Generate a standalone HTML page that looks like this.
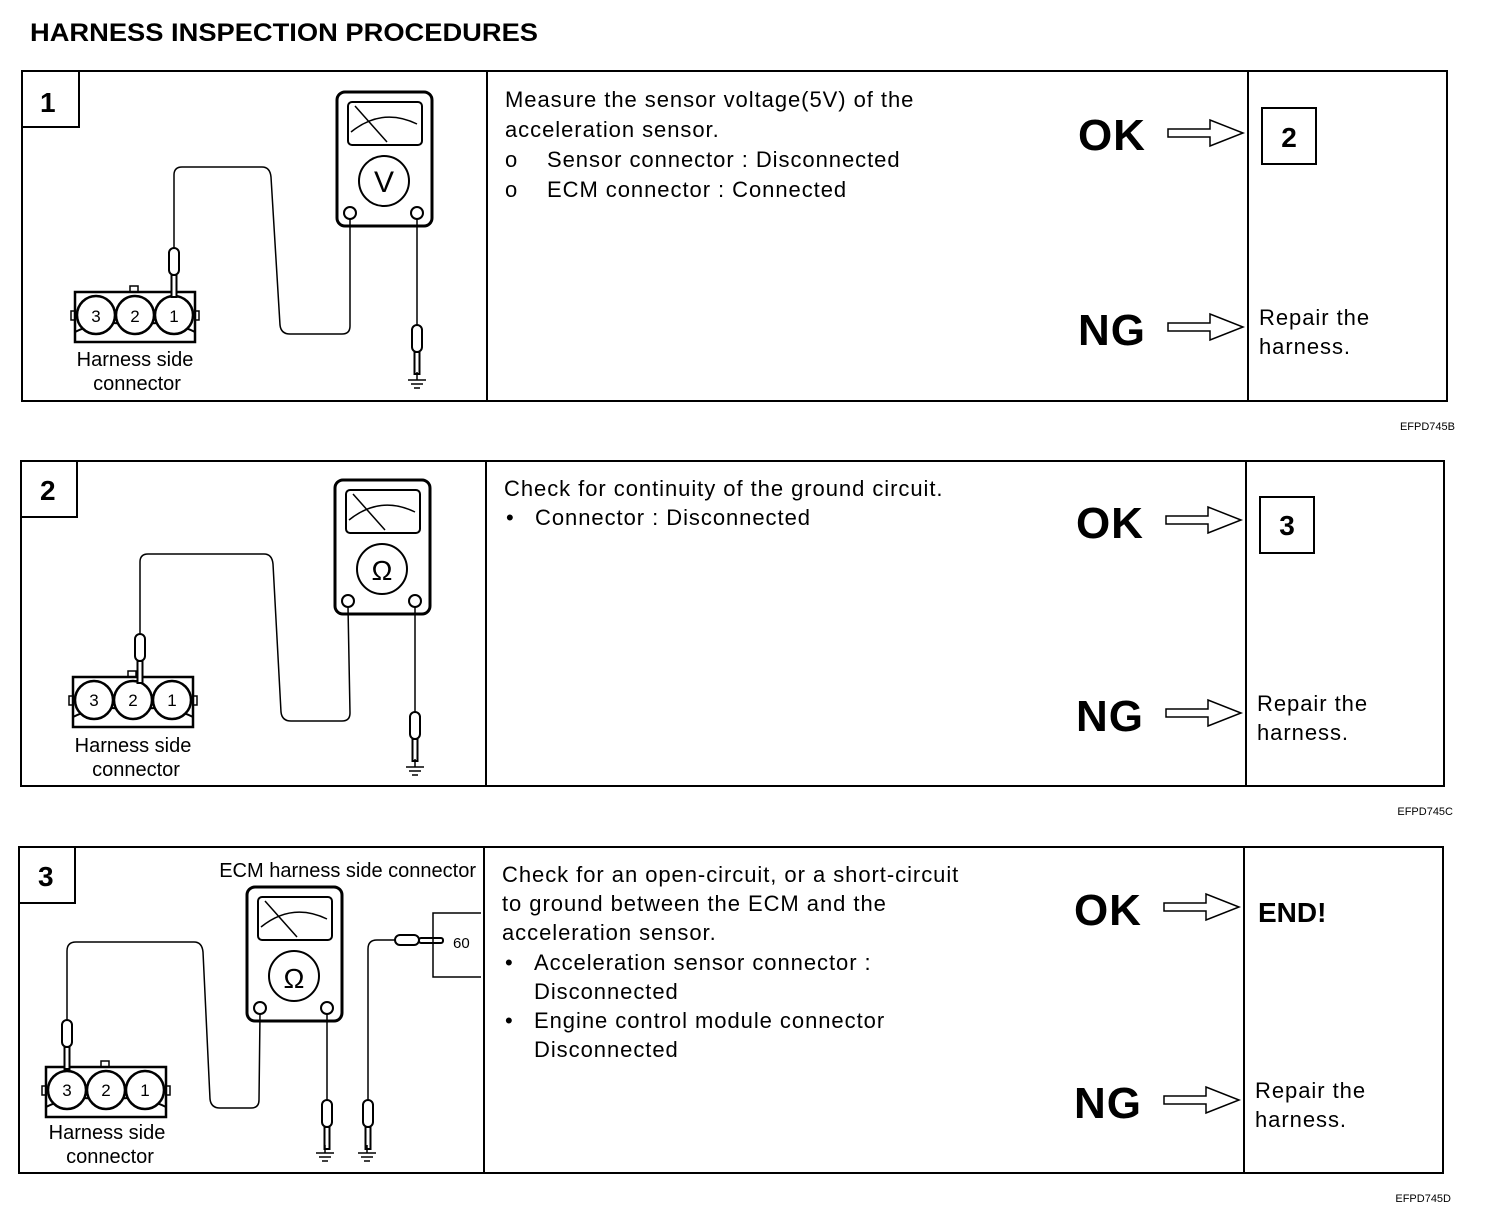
<!DOCTYPE html>
<html><head><meta charset="utf-8"><style>
html,body{margin:0;padding:0;background:#fff}
svg{display:block}
text{font-family:"Liberation Sans",Arial,sans-serif;fill:#000}
.bt{letter-spacing:0.95px}
</style></head><body>
<svg width="1504" height="1214" viewBox="0 0 1504 1214" xmlns="http://www.w3.org/2000/svg">
<defs>
<g id="meter" fill="none" stroke="#000">
  <rect x="0" y="0" width="95" height="134" rx="8" stroke-width="3"/>
  <rect x="11" y="10" width="74" height="43" rx="4" stroke-width="2"/>
  <path d="M14,40 Q45,15 80,32" stroke-width="1.5"/>
  <path d="M18,14 L50,50" stroke-width="1.5"/>
  <circle cx="47" cy="89" r="25" stroke-width="2"/>
  <circle cx="13" cy="121" r="6" stroke-width="2" fill="#fff"/>
  <circle cx="80" cy="121" r="6" stroke-width="2" fill="#fff"/>
</g>
<g id="conn" stroke="#000" fill="none">
  <rect x="-4" y="19" width="6" height="9" stroke-width="1.5" fill="#fff"/>
  <rect x="118" y="19" width="6" height="9" stroke-width="1.5" fill="#fff"/>
  <rect x="55" y="-6" width="8" height="7" stroke-width="1.5" fill="#fff"/>
  <rect x="0" y="0" width="120" height="50" stroke-width="2.5" fill="#fff"/>
  <path d="M0,40 Q30,25 60,35 Q90,25 120,40" stroke-width="2"/>
  <circle cx="21" cy="23" r="19" stroke-width="2.5" fill="#fff"/>
  <circle cx="60" cy="23" r="19" stroke-width="2.5" fill="#fff"/>
  <circle cx="99" cy="23" r="19" stroke-width="2.5" fill="#fff"/>
</g>
<g id="probe" stroke="#000" fill="#fff">
  <rect x="-5" y="0" width="10" height="27" rx="5" stroke-width="2"/>
  <rect x="-2.5" y="27" width="5" height="22" stroke-width="2"/>
</g>
<g id="gnd" stroke="#000" stroke-width="1.5">
  <line x1="0" y1="-8" x2="0" y2="0"/>
  <line x1="-9" y1="0" x2="9" y2="0"/><line x1="-6" y1="4" x2="6" y2="4"/><line x1="-3" y1="8" x2="3" y2="8"/>
</g>
<g id="arrow" fill="#fff" stroke="#000" stroke-width="1.5">
  <path d="M0,-4 L42,-4 L42,-13 L75,0 L42,13 L42,4 L0,4 Z"/>
</g>
</defs>

<text x="30" y="41" font-size="25" font-weight="bold" textLength="508" lengthAdjust="spacingAndGlyphs">HARNESS INSPECTION PROCEDURES</text>

<!-- Panel 1 -->
<g fill="none" stroke="#000" stroke-width="2">
<rect x="22" y="71" width="1425" height="330"/>
<line x1="487" y1="71" x2="487" y2="401"/>
<line x1="1248" y1="71" x2="1248" y2="401"/>
<rect x="22" y="71" width="57" height="56"/>
</g>
<text x="40" y="112" font-size="28" font-weight="bold">1</text>
<use href="#meter" x="337" y="92"/>
<text x="384" y="192" font-size="30" text-anchor="middle">V</text>
<path d="M174,250 L174,175 Q174,167 182,167 L262,167 Q270,167 271,177 L280,325 Q281,334 290,334 L342,334 Q350,334 350,326 L350,219" fill="none" stroke="#000" stroke-width="1.5"/>
<use href="#conn" x="75" y="292"/>
<text x="96" y="322" font-size="17" text-anchor="middle">3</text>
<text x="135" y="322" font-size="17" text-anchor="middle">2</text>
<text x="174" y="322" font-size="17" text-anchor="middle">1</text>
<use href="#probe" x="174" y="248"/>
<line x1="417" y1="219" x2="417" y2="325" stroke="#000" stroke-width="1.5"/>
<use href="#probe" x="417" y="325"/>
<use href="#gnd" x="417" y="380"/>
<text x="135" y="366" font-size="20" text-anchor="middle">Harness side</text>
<text x="137" y="390" font-size="20" text-anchor="middle">connector</text>
<g font-size="22" class="bt">
<text x="505" y="107">Measure the sensor voltage(5V) of the</text>
<text x="505" y="137">acceleration sensor.</text>
<text x="505" y="167">o</text><text x="547" y="167">Sensor connector : Disconnected</text>
<text x="505" y="197">o</text><text x="547" y="197">ECM connector : Connected</text>
</g>
<text x="1078" y="150" font-size="44" font-weight="bold" class="bt">OK</text>
<use href="#arrow" x="1168" y="133"/>
<rect x="1262" y="108" width="54" height="56" fill="none" stroke="#000" stroke-width="2"/>
<text x="1289" y="147" font-size="28" font-weight="bold" text-anchor="middle">2</text>
<text x="1078" y="345" font-size="44" font-weight="bold" class="bt">NG</text>
<use href="#arrow" x="1168" y="327"/>
<text x="1259" y="325" font-size="22" class="bt">Repair the</text>
<text x="1259" y="354" font-size="22" class="bt">harness.</text>
<text x="1455" y="430" font-size="11" text-anchor="end">EFPD745B</text>

<!-- Panel 2 -->
<g fill="none" stroke="#000" stroke-width="2">
<rect x="21" y="461" width="1423" height="325"/>
<line x1="486" y1="461" x2="486" y2="786"/>
<line x1="1246" y1="461" x2="1246" y2="786"/>
<rect x="21" y="461" width="56" height="56"/>
</g>
<text x="40" y="500" font-size="28" font-weight="bold">2</text>
<use href="#meter" x="335" y="480"/>
<text x="382" y="580" font-size="28" text-anchor="middle" font-family="Liberation Serif">Ω</text>
<path d="M140,636 L140,562 Q140,554 148,554 L264,554 Q272,554 273,564 L281,712 Q282,721 291,721 L342,721 Q350,721 350,713 L348,607" fill="none" stroke="#000" stroke-width="1.5"/>
<use href="#conn" x="73" y="677"/>
<text x="94" y="706" font-size="17" text-anchor="middle">3</text>
<text x="133" y="706" font-size="17" text-anchor="middle">2</text>
<text x="172" y="706" font-size="17" text-anchor="middle">1</text>
<use href="#probe" x="140" y="634"/>
<line x1="415" y1="607" x2="415" y2="712" stroke="#000" stroke-width="1.5"/>
<use href="#probe" x="415" y="712"/>
<use href="#gnd" x="415" y="767"/>
<text x="133" y="752" font-size="20" text-anchor="middle">Harness side</text>
<text x="136" y="776" font-size="20" text-anchor="middle">connector</text>
<g font-size="22" class="bt">
<text x="504" y="496">Check for continuity of the ground circuit.</text>
<text x="506" y="525">•</text><text x="535" y="525">Connector : Disconnected</text>
</g>
<text x="1076" y="538" font-size="44" font-weight="bold" class="bt">OK</text>
<use href="#arrow" x="1166" y="520"/>
<rect x="1260" y="497" width="54" height="56" fill="none" stroke="#000" stroke-width="2"/>
<text x="1287" y="535" font-size="28" font-weight="bold" text-anchor="middle">3</text>
<text x="1076" y="731" font-size="44" font-weight="bold" class="bt">NG</text>
<use href="#arrow" x="1166" y="713"/>
<text x="1257" y="711" font-size="22" class="bt">Repair the</text>
<text x="1257" y="740" font-size="22" class="bt">harness.</text>
<text x="1453" y="815" font-size="11" text-anchor="end">EFPD745C</text>

<!-- Panel 3 -->
<g fill="none" stroke="#000" stroke-width="2">
<rect x="19" y="847" width="1424" height="326"/>
<line x1="484" y1="847" x2="484" y2="1173"/>
<line x1="1244" y1="847" x2="1244" y2="1173"/>
<rect x="19" y="847" width="56" height="56"/>
</g>
<text x="38" y="886" font-size="28" font-weight="bold">3</text>
<text x="476" y="877" font-size="20" text-anchor="end">ECM harness side connector</text>
<use href="#meter" x="247" y="887"/>
<text x="294" y="988" font-size="28" text-anchor="middle" font-family="Liberation Serif">Ω</text>
<path d="M67,1022 L67,951 Q67,942 76,942 L194,942 Q202,942 203,952 L210,1099 Q211,1108 220,1108 L251,1108 Q259,1108 259,1100 L260,1014" fill="none" stroke="#000" stroke-width="1.5"/>
<use href="#conn" x="46" y="1067"/>
<text x="67" y="1096" font-size="17" text-anchor="middle">3</text>
<text x="106" y="1096" font-size="17" text-anchor="middle">2</text>
<text x="145" y="1096" font-size="17" text-anchor="middle">1</text>
<use href="#probe" x="67" y="1020"/>
<line x1="327" y1="1014" x2="327" y2="1100" stroke="#000" stroke-width="1.5"/>
<use href="#probe" x="327" y="1100"/>
<use href="#gnd" x="325" y="1153"/>
<path d="M368,1100 L368,949 Q368,940 377,940 L395,940" fill="none" stroke="#000" stroke-width="1.5"/>
<use href="#probe" x="368" y="1100"/>
<use href="#gnd" x="367" y="1153"/>
<rect x="395" y="935" width="24" height="10" rx="5" fill="#fff" stroke="#000" stroke-width="2"/>
<rect x="419" y="938" width="24" height="5" rx="2" fill="#fff" stroke="#000" stroke-width="2"/>
<path d="M481,913 L433,913 L433,977 L481,977" fill="none" stroke="#000" stroke-width="1.5"/>
<text x="453" y="948" font-size="15">60</text>
<text x="107" y="1139" font-size="20" text-anchor="middle">Harness side</text>
<text x="110" y="1163" font-size="20" text-anchor="middle">connector</text>
<g font-size="22" class="bt">
<text x="502" y="882">Check for an open-circuit, or a short-circuit</text>
<text x="502" y="911">to ground between the ECM and the</text>
<text x="502" y="940">acceleration sensor.</text>
<text x="505" y="970">•</text><text x="534" y="970">Acceleration sensor connector :</text>
<text x="534" y="999">Disconnected</text>
<text x="505" y="1028">•</text><text x="534" y="1028">Engine control module connector</text>
<text x="534" y="1057">Disconnected</text>
</g>
<text x="1074" y="925" font-size="44" font-weight="bold" class="bt">OK</text>
<use href="#arrow" x="1164" y="907"/>
<text x="1258" y="922" font-size="28" font-weight="bold">END!</text>
<text x="1074" y="1118" font-size="44" font-weight="bold" class="bt">NG</text>
<use href="#arrow" x="1164" y="1100"/>
<text x="1255" y="1098" font-size="22" class="bt">Repair the</text>
<text x="1255" y="1127" font-size="22" class="bt">harness.</text>
<text x="1451" y="1202" font-size="11" text-anchor="end">EFPD745D</text>
</svg>
</body></html>
